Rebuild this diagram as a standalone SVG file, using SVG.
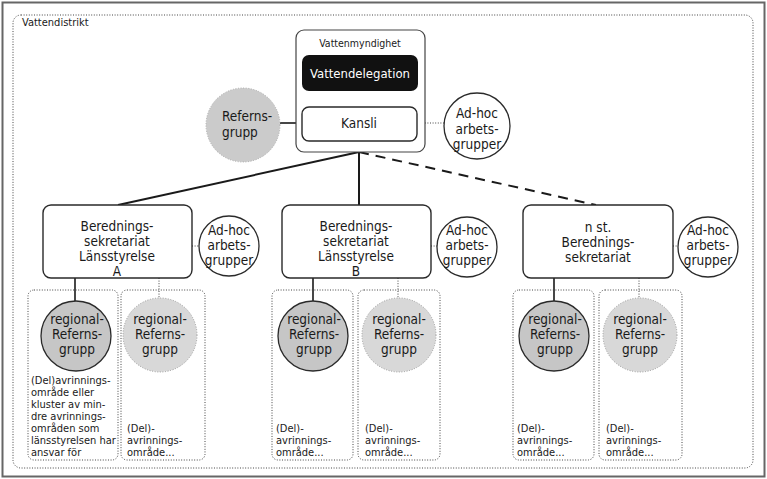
<svg xmlns="http://www.w3.org/2000/svg" width="767" height="479" viewBox="0 0 767 479">
<style>
text{font-family:"DejaVu Sans Condensed","DejaVu Sans",sans-serif;fill:#1a1a1a}
.m{font-size:13.5px;text-anchor:middle}
.s{font-size:11px}
.w{fill:#fff}
.box{fill:#fff;stroke:#2a2a2a;stroke-width:1.4}
.grp{fill:none;stroke:#444;stroke-width:1;stroke-dasharray:1 1.6}
.adhoc{fill:#fff;stroke:#2a2a2a;stroke-width:1.3}
.ref1{fill:#c6c6c6;stroke:#2a2a2a;stroke-width:1.3}
.ref2{fill:#d8d8d8;stroke:#999;stroke-width:1;stroke-dasharray:1 1.6}
.sol{stroke:#1a1a1a;stroke-width:1.6;fill:none}
.dot{stroke:#444;stroke-width:1;stroke-dasharray:1 1.6;fill:none}
</style>
<rect x="0" y="0" width="767" height="479" fill="#fff"/>
<rect x="2.5" y="2.5" width="762" height="474" fill="none" stroke="#666" stroke-width="2"/>
<g id="vattendistrikt">
<rect x="13" y="15" width="740" height="453" rx="8" class="grp"/>
<text x="22" y="26" class="s">Vattendistrikt</text>
</g>
<g id="connectors">
<line x1="359" y1="152" x2="118" y2="205" stroke="#1a1a1a" stroke-width="2"/>
<line x1="359" y1="152" x2="359" y2="205" stroke="#1a1a1a" stroke-width="2"/>
<line x1="359" y1="152" x2="596" y2="205" stroke="#1a1a1a" stroke-width="2" stroke-dasharray="10 7"/>
<line x1="358" y1="91" x2="358" y2="107" class="sol"/>
<line x1="280" y1="123" x2="302" y2="123" class="sol"/>
<line x1="417" y1="123" x2="444" y2="123" class="dot"/>
<line x1="192" y1="246" x2="199" y2="246" class="dot"/>
<line x1="431" y1="246" x2="437" y2="246" class="dot"/>
<line x1="673" y1="246" x2="678" y2="246" class="dot"/>
<line x1="75" y1="278" x2="75" y2="301" class="sol"/>
<line x1="159" y1="278" x2="159" y2="298" class="dot"/>
<line x1="313" y1="278" x2="313" y2="301" class="sol"/>
<line x1="398" y1="278" x2="398" y2="298" class="dot"/>
<line x1="554" y1="278" x2="554" y2="301" class="sol"/>
<line x1="639" y1="278" x2="639" y2="298" class="dot"/>
</g>
<g id="vattenmyndighet">
<rect x="296" y="30" width="129" height="122" rx="8" fill="#fff" stroke="#444" stroke-width="1.2"/>
<text x="360" y="47" class="s" text-anchor="middle" style="font-size:10.5px">Vattenmyndighet</text>
</g>
<g id="vattendelegation">
<rect x="302" y="55" width="116" height="36" rx="7" fill="#111"/>
<text x="360" y="78" class="m w" style="font-size:13px">Vattendelegation</text>
</g>
<g id="kansli">
<rect x="302" y="107" width="115" height="34" rx="7" class="box" stroke-width="1.2"/>
<text x="359" y="128" class="m">Kansli</text>
</g>
<g id="refernsgrupp">
<circle cx="243" cy="125" r="37" fill="#cbcbcb" stroke="#aaa" stroke-width="1" stroke-dasharray="1 1.6"/>
<text x="222" y="121" style="font-size:13.5px">Referns-</text>
<text x="222" y="137" style="font-size:13.5px">grupp</text>
</g>
<g id="adhoc-top">
<circle cx="477" cy="126" r="33" class="adhoc"/>
<text x="477" y="118" class="m">Ad-hoc</text>
<text x="477" y="133.5" class="m">arbets-</text>
<text x="477" y="149" class="m">grupper</text>
</g>
<g id="beredning-a">
<rect x="43" y="205" width="149" height="73" rx="8" class="box"/>
<text x="117" y="231" class="m">Berednings-</text>
<text x="117" y="246" class="m">sekretariat</text>
<text x="117" y="261" class="m">Länsstyrelse</text>
<text x="117" y="276" class="m">A</text>
</g>
<g id="adhoc-a">
<circle cx="229" cy="246" r="30" class="adhoc"/>
<text x="229" y="235" class="m">Ad-hoc</text>
<text x="229" y="250" class="m">arbets-</text>
<text x="229" y="265" class="m">grupper</text>
</g>
<g id="beredning-b">
<rect x="282" y="205" width="149" height="73" rx="8" class="box"/>
<text x="356" y="231" class="m">Berednings-</text>
<text x="356" y="246" class="m">sekretariat</text>
<text x="356" y="261" class="m">Länsstyrelse</text>
<text x="356" y="276" class="m">B</text>
</g>
<g id="adhoc-b">
<circle cx="467" cy="247" r="30" class="adhoc"/>
<text x="467" y="235" class="m">Ad-hoc</text>
<text x="467" y="250" class="m">arbets-</text>
<text x="467" y="265" class="m">grupper</text>
</g>
<g id="beredning-c">
<rect x="523" y="205" width="150" height="73" rx="8" class="box"/>
<text x="598" y="232" class="m">n st.</text>
<text x="598" y="247" class="m">Berednings-</text>
<text x="598" y="262" class="m">sekretariat</text>
</g>
<g id="adhoc-c">
<circle cx="708" cy="247" r="30" class="adhoc"/>
<text x="708" y="235" class="m">Ad-hoc</text>
<text x="708" y="250" class="m">arbets-</text>
<text x="708" y="265" class="m">grupper</text>
</g>
<g id="group-a1">
<rect x="28" y="290" width="90" height="170" rx="6" class="grp"/>
<circle cx="76" cy="336" r="35" class="ref1"/>
<text x="77" y="324" class="m">regional-</text>
<text x="77" y="339" class="m">Referns-</text>
<text x="77" y="354" class="m">grupp</text>
<text class="s"><tspan x="31" y="384">(Del)avrinnings-</tspan><tspan x="31" y="396">område eller</tspan><tspan x="31" y="408">kluster av min-</tspan><tspan x="31" y="420">dre avrinnings-</tspan><tspan x="31" y="432">områden som</tspan><tspan x="31" y="444">länsstyrelsen har</tspan><tspan x="31" y="456">ansvar för</tspan></text>
</g>
<g id="group-a2">
<rect x="121" y="290" width="84" height="170" rx="6" class="grp"/>
<circle cx="160" cy="335" r="37" class="ref2"/>
<text x="160" y="324" class="m">regional-</text>
<text x="160" y="339" class="m">Referns-</text>
<text x="160" y="354" class="m">grupp</text>
<text class="s"><tspan x="127" y="432">(Del)-</tspan><tspan x="127" y="444">avrinnings-</tspan><tspan x="127" y="456">område...</tspan></text>
</g>
<g id="group-b1">
<rect x="272" y="290" width="81" height="170" rx="6" class="grp"/>
<circle cx="313" cy="336" r="35" class="ref1"/>
<text x="314" y="324" class="m">regional-</text>
<text x="314" y="339" class="m">Referns-</text>
<text x="314" y="354" class="m">grupp</text>
<text class="s"><tspan x="276" y="432">(Del)-</tspan><tspan x="276" y="444">avrinnings-</tspan><tspan x="276" y="456">område...</tspan></text>
</g>
<g id="group-b2">
<rect x="358" y="290" width="82" height="170" rx="6" class="grp"/>
<circle cx="399" cy="335" r="37" class="ref2"/>
<text x="399" y="324" class="m">regional-</text>
<text x="399" y="339" class="m">Referns-</text>
<text x="399" y="354" class="m">grupp</text>
<text class="s"><tspan x="365" y="432">(Del)-</tspan><tspan x="365" y="444">avrinnings-</tspan><tspan x="365" y="456">område...</tspan></text>
</g>
<g id="group-c1">
<rect x="513" y="290" width="81" height="170" rx="6" class="grp"/>
<circle cx="554" cy="336" r="35" class="ref1"/>
<text x="555" y="324" class="m">regional-</text>
<text x="555" y="339" class="m">Referns-</text>
<text x="555" y="354" class="m">grupp</text>
<text class="s"><tspan x="517" y="432">(Del)-</tspan><tspan x="517" y="444">avrinnings-</tspan><tspan x="517" y="456">område...</tspan></text>
</g>
<g id="group-c2">
<rect x="599" y="290" width="83" height="170" rx="6" class="grp"/>
<circle cx="640" cy="335" r="37" class="ref2"/>
<text x="640" y="324" class="m">regional-</text>
<text x="640" y="339" class="m">Referns-</text>
<text x="640" y="354" class="m">grupp</text>
<text class="s"><tspan x="606" y="432">(Del)-</tspan><tspan x="606" y="444">avrinnings-</tspan><tspan x="606" y="456">område...</tspan></text>
</g>
</svg>
